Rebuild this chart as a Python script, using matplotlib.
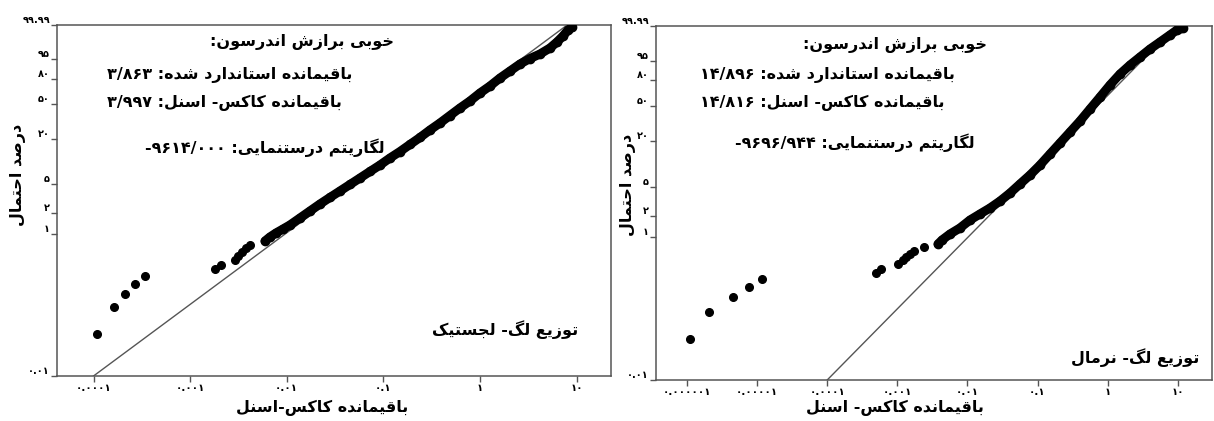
import re
import numpy as np
import matplotlib
matplotlib.use('Agg')
import matplotlib.pyplot as plt
from matplotlib.ticker import NullLocator

# y axis (percent, Weibull probability scale) ticks and labels
prob_ticks = [0.01, 1, 2, 5, 20, 50, 80, 95, 99.99]
prob_labels = ['۰.۰۱', '۱', '۲', '۵', '۲۰', '۵۰', '۸۰', '۹۵', '۹۹.۹۹']

# left panel: log-logistic
left_xticks = [0.0001, 0.001, 0.01, 0.1, 1, 10]
left_xlabels = ['۰.۰۰۰۱', '۰.۰۰۱', '۰.۰۱', '۰.۱', '۱', '۱۰']
left_low_x = [1.074e-4, 1.63e-4, 2.14e-4, 2.69e-4, 3.41e-4]
left_low_p = [0.0393, 0.0946, 0.1445, 0.200, 0.260]
left_mid_x = [1.81e-3, 2.09e-3, 2.92e-3, 3.13e-3, 3.44e-3, 3.79e-3, 4.17e-3]
left_mid_p = [0.326, 0.371, 0.437, 0.497, 0.566, 0.644, 0.710]
left_curve_x = [5.96e-3, 6.71e-3, 7.75e-3, 9.16e-3, 1.08e-2, 1.37e-2, 1.74e-2, 2.21e-2,
                2.80e-2, 3.56e-2, 4.52e-2, 5.74e-2, 7.28e-2, 9.25e-2, 0.1173, 0.1489,
                0.1888, 0.2397, 0.3041, 0.3862, 0.4898, 0.6219, 0.7889, 1.002, 1.272,
                1.615, 2.049, 2.601, 3.301, 4.19, 5.32, 6.28, 7.25, 8.17, 8.98]
left_curve_p = [0.808, 0.921, 1.048, 1.193, 1.358, 1.701, 2.133, 2.672, 3.293, 4.054,
                4.982, 6.122, 7.511, 9.194, 11.41, 13.90, 17.15, 21.04, 26.03, 31.53,
                38.33, 46.05, 53.93, 63.43, 71.74, 80.58, 87.24, 92.47, 95.46, 97.22,
                98.72, 99.50, 99.84, 99.96, 99.98]
left_fit_x = [0.0001, 8.0]
left_fit_p = [0.01, 99.99]

# right panel: lognormal
right_xticks = [1e-6, 1e-5, 1e-4, 1e-3, 0.01, 0.1, 1, 10]
right_xlabels = ['۰.۰۰۰۰۰۱', '۰.۰۰۰۰۱', '۰.۰۰۰۱', '۰.۰۰۱', '۰.۰۱', '۰.۱', '۱', '۱۰']
right_low_x = [1.11e-6, 2.06e-6, 4.57e-6, 7.59e-6, 1.17e-5]
right_low_p = [0.0376, 0.0907, 0.146, 0.203, 0.258]
right_mid_x = [4.93e-4, 5.89e-4, 1.02e-3, 1.20e-3, 1.33e-3, 1.52e-3, 1.73e-3, 2.40e-3]
right_mid_p = [0.319, 0.360, 0.422, 0.480, 0.530, 0.583, 0.642, 0.730]
right_curve_x = [3.81e-3, 4.35e-3, 5.65e-3, 7.83e-3, 1.09e-2, 1.51e-2, 2.10e-2, 2.92e-2,
                 4.06e-2, 5.62e-2, 7.82e-2, 0.1087, 0.1507, 0.2094, 0.291, 0.404, 0.561,
                 0.780, 1.081, 1.503, 2.09, 2.90, 4.03, 5.60, 7.77, 9.78, 11.9]
right_curve_p = [0.805, 0.915, 1.109, 1.345, 1.737, 2.106, 2.548, 3.18, 4.105, 5.45,
                 7.22, 9.83, 13.72, 18.98, 25.94, 34.84, 46.81, 60.53, 74.59, 85.83,
                 92.68, 96.61, 98.75, 99.59, 99.90, 99.97, 99.98]
right_fit_x = [0.0001, 9.5]
right_fit_p = [0.01, 99.99]

# text blocks
left_stats = ['خوبی برازش اندرسون:', 'باقیمانده استاندارد شده: ۳/۸۶۳',
              'باقیمانده کاکس- اسنل: ۳/۹۹۷', 'لگاریتم درستنمایی: ۹۶۱۴/۰۰۰-']
right_stats = ['خوبی برازش اندرسون:', 'باقیمانده استاندارد شده: ۱۴/۸۹۶',
               'باقیمانده کاکس- اسنل: ۱۴/۸۱۶', 'لگاریتم درستنمایی: ۹۶۹۶/۹۴۴-']
left_dist = 'توزیع لگ- لجستیک'
right_dist = 'توزیع لگ- نرمال'
ylabel = 'درصد احتمال'
left_xlabel = 'باقیمانده کاکس-اسنل'
right_xlabel = 'باقیمانده کاکس- اسنل'

# contextual forms: isolated, final, initial, medial (right-joining letters have two)
FORMS = {
    '\u0627': '\uFE8D\uFE8E', '\u0622': '\uFE81\uFE82', '\u062F': '\uFEA9\uFEAA',
    '\u0630': '\uFEAB\uFEAC', '\u0631': '\uFEAD\uFEAE', '\u0632': '\uFEAF\uFEB0',
    '\u0698': '\uFB8A\uFB8B', '\u0648': '\uFEED\uFEEE',
    '\u0628': '\uFE8F\uFE90\uFE91\uFE92', '\u067E': '\uFB56\uFB57\uFB58\uFB59',
    '\u062A': '\uFE95\uFE96\uFE97\uFE98', '\u062C': '\uFE9D\uFE9E\uFE9F\uFEA0',
    '\u0686': '\uFB7A\uFB7B\uFB7C\uFB7D', '\u062D': '\uFEA1\uFEA2\uFEA3\uFEA4',
    '\u062E': '\uFEA5\uFEA6\uFEA7\uFEA8', '\u0633': '\uFEB1\uFEB2\uFEB3\uFEB4',
    '\u0634': '\uFEB5\uFEB6\uFEB7\uFEB8', '\u0635': '\uFEB9\uFEBA\uFEBB\uFEBC',
    '\u0639': '\uFEC9\uFECA\uFECB\uFECC', '\u0641': '\uFED1\uFED2\uFED3\uFED4',
    '\u0642': '\uFED5\uFED6\uFED7\uFED8', '\u06A9': '\uFB8E\uFB8F\uFB90\uFB91',
    '\u0643': '\uFB8E\uFB8F\uFB90\uFB91', '\u06AF': '\uFB92\uFB93\uFB94\uFB95',
    '\u0644': '\uFEDD\uFEDE\uFEDF\uFEE0', '\u0645': '\uFEE1\uFEE2\uFEE3\uFEE4',
    '\u0646': '\uFEE5\uFEE6\uFEE7\uFEE8', '\u0647': '\uFEE9\uFEEA\uFEEB\uFEEC',
    '\u06CC': '\uFBFC\uFBFD\uFBFE\uFBFF', '\u064A': '\uFBFC\uFBFD\uFBFE\uFBFF',
}
NUMBER = r'([\u06F0-\u06F9]+(?:[./][\u06F0-\u06F9]+)*)'


def farsi(text):
    """Shape Persian letters and return the text in visual left-to-right order"""
    shaped = []
    for i, ch in enumerate(text):
        forms = FORMS.get(ch)
        if forms is None:
            shaped.append(ch)
            continue
        prev_forms = FORMS.get(text[i - 1]) if i > 0 else None
        next_ch = text[i + 1] if i + 1 < len(text) else ''
        joins_prev = prev_forms is not None and len(prev_forms) == 4
        joins_next = len(forms) == 4 and next_ch in FORMS
        if joins_prev and joins_next:
            shaped.append(forms[3])
        elif joins_prev:
            shaped.append(forms[1])
        elif joins_next:
            shaped.append(forms[2])
        else:
            shaped.append(forms[0])
    parts = re.split(NUMBER, ''.join(shaped))
    # numbers (odd items) keep their order, everything else runs right to left
    return ''.join(p if k % 2 else p[::-1] for k, p in reversed(list(enumerate(parts))))


def weibull_fwd(p):
    p = np.clip(np.asarray(p, dtype=float), 1e-7, 100 - 1e-7)
    return np.log(-np.log(1 - p / 100.0))


def weibull_inv(w):
    return 100.0 * (1 - np.exp(-np.exp(np.asarray(w, dtype=float))))


def px(x, y):
    """figure fraction from pixel position (origin top left)"""
    return x / 1214.0, 1 - y / 421.0


def draw_panel(fig, rect, xlim, xticks, xlabels, low, mid, curve, fit):
    ax = fig.add_axes(rect)
    ax.set_xscale('log')
    ax.set_yscale('function', functions=(weibull_fwd, weibull_inv))
    ax.set_xlim(*xlim)
    ax.set_ylim(0.01, 99.99)

    ax.plot(fit[0], fit[1], color='#555555', lw=1.0, zorder=2)
    ax.plot(curve[0], curve[1], color='black', lw=6.5, marker='o', ms=6,
            solid_capstyle='round', solid_joinstyle='round', zorder=3)
    ax.plot(mid[0], mid[1], 'o', color='black', ms=5.5, zorder=3)
    ax.plot(low[0], low[1], 'o', color='black', ms=5.5, zorder=3)

    ax.set_yticks(prob_ticks)
    ax.set_yticklabels(prob_labels, va='bottom', fontsize=7, fontweight='bold')
    ax.set_xticks(xticks)
    ax.set_xticklabels(xlabels, fontsize=7.5, fontweight='bold')
    ax.xaxis.set_minor_locator(NullLocator())
    ax.yaxis.set_minor_locator(NullLocator())
    ax.tick_params(direction='out', length=4, width=1, color='#555555', pad=1)
    for s in ax.spines.values():
        s.set_color('#555555')
        s.set_linewidth(1.1)
    return ax


fig = plt.figure(figsize=(12.14, 4.21), dpi=100)
plt.rcParams['font.family'] = ['DejaVu Sans']

draw_panel(fig, [57 / 1214, 1 - 376 / 421, 554 / 1214, 351 / 421],
           (10 ** -4.378, 10 ** 1.357), left_xticks, left_xlabels,
           (left_low_x, left_low_p), (left_mid_x, left_mid_p),
           (left_curve_x, left_curve_p), (left_fit_x, left_fit_p))
draw_panel(fig, [656 / 1214, 1 - 380 / 421, 556 / 1214, 354 / 421],
           (10 ** -6.442, 10 ** 1.489), right_xticks, right_xlabels,
           (right_low_x, right_low_p), (right_mid_x, right_mid_p),
           (right_curve_x, right_curve_p), (right_fit_x, right_fit_p))

txt = dict(fontsize=11.5, fontweight='bold', va='center', color='black')

# statistics blocks: title and log-likelihood centred, residual lines start at the numbers
fig.text(*px(302, 42), farsi(left_stats[0]), ha='center', **txt)
fig.text(*px(107, 75), farsi(left_stats[1]), ha='left', **txt)
fig.text(*px(107, 103), farsi(left_stats[2]), ha='left', **txt)
fig.text(*px(265, 148), farsi(left_stats[3]), ha='center', **txt)

fig.text(*px(895, 45), farsi(right_stats[0]), ha='center', **txt)
fig.text(*px(700, 75), farsi(right_stats[1]), ha='left', **txt)
fig.text(*px(700, 103), farsi(right_stats[2]), ha='left', **txt)
fig.text(*px(855, 143), farsi(right_stats[3]), ha='center', **txt)

fig.text(*px(505, 330), farsi(left_dist), ha='center', **txt)
fig.text(*px(1135, 358), farsi(right_dist), ha='center', **txt)

# axis titles
fig.text(*px(18, 175), farsi(ylabel), rotation=90, ha='center', **txt)
fig.text(*px(628, 185), farsi(ylabel), rotation=90, ha='center', **txt)
fig.text(*px(322, 408), farsi(left_xlabel), ha='center', **txt)
fig.text(*px(895, 408), farsi(right_xlabel), ha='center', **txt)

fig.savefig('out.png', dpi=100)
